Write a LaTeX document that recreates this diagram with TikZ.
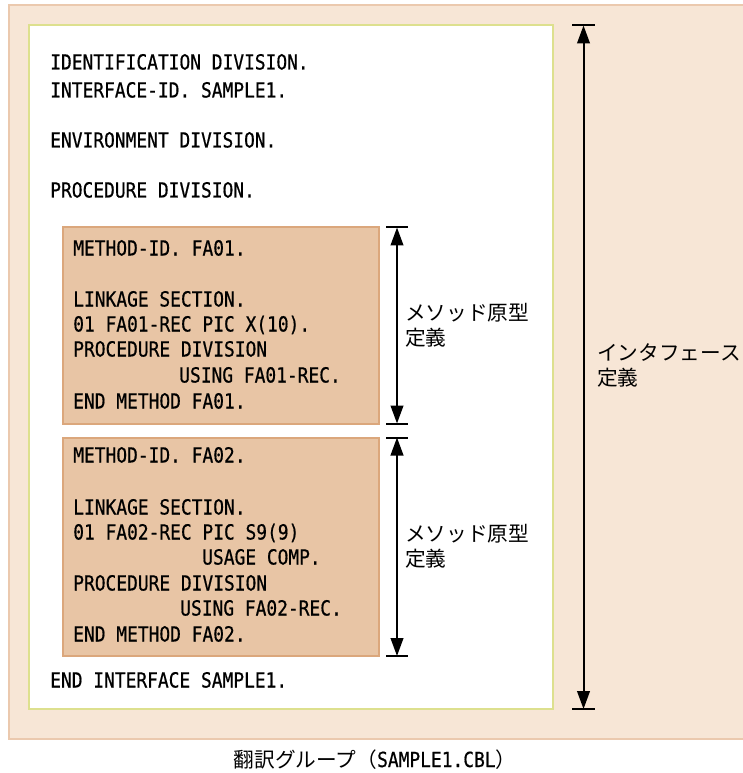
\documentclass[tikz,border=0pt]{standalone}
\usepackage{fontspec}
\usetikzlibrary{arrows.meta}
\newfontfamily\codefont[FakeStretch=0.86,FakeBold=0.6]{DejaVu Sans Mono}
\newfontfamily\jpfont{Noto Sans CJK JP}
\definecolor{outerfill}{HTML}{F7E6D6}
\definecolor{outerline}{HTML}{EBC9AE}
\definecolor{innerline}{HTML}{DDE08E}
\definecolor{methfill}{HTML}{E8C5A5}
\definecolor{methline}{HTML}{DBA77C}
\begin{document}
\begin{tikzpicture}[x=0.75pt,y=-0.75pt,
  code/.style={anchor=base west, inner sep=0pt, font=\codefont\fontsize{15.6}{18}\selectfont},
  jp/.style={anchor=base west, inner sep=0pt, font=\jpfont\fontsize{15.5}{18}\selectfont},
  dimline/.style={line width=1.5pt, {Triangle[length=13.5pt,width=9.5pt]}-{Triangle[length=13.5pt,width=9.5pt]}},
  tickbar/.style={line width=1.5pt},
  outerbox/.style={fill=outerfill, draw=outerline, line width=1.5pt},
  innerbox/.style={fill=white, draw=innerline, line width=1.5pt},
  methbox/.style={fill=methfill, draw=methline, line width=1.5pt}]
\useasboundingbox (0,0) rectangle (742,773);
% containers
\draw[outerbox] (8.5,5.5) rectangle (790,739);
\draw[innerbox] (28.5,25.5) rectangle (553,709);
\draw[methbox] (62.5,227.5) rectangle (379,423.5);
\draw[methbox] (62.5,437.5) rectangle (379,656);
% top code
\node[code] (l1) at (50,69.5) {IDENTIFICATION DIVISION.};
\node[code] (l2) at (50,97.5) {INTERFACE-ID. SAMPLE1.};
\node[code] (l3) at (50,147.5) {ENVIRONMENT DIVISION.};
\node[code] (l4) at (50,197.5) {PROCEDURE DIVISION.};
% method 1
\node[code] (a1) at (73,255.5) {METHOD-ID. FA01.};
\node[code] (a2) at (73,306.5) {LINKAGE SECTION.};
\node[code] (a3) at (73,331.5) {01 FA01-REC PIC X(10).};
\node[code] (a4) at (73,356.5) {PROCEDURE DIVISION};
\node[code] (a5) at (179,382.5) {USING FA01-REC.};
\node[code] (a6) at (73,408.5) {END METHOD FA01.};
% method 2
\node[code] (b1) at (73,462.5) {METHOD-ID. FA02.};
\node[code] (b2) at (73,514.5) {LINKAGE SECTION.};
\node[code] (b3) at (73,539.5) {01 FA02-REC PIC S9(9)};
\node[code] (b4) at (202,564.5) {USAGE COMP.};
\node[code] (b5) at (73,590.5) {PROCEDURE DIVISION};
\node[code] (b6) at (180,615.5) {USING FA02-REC.};
\node[code] (b7) at (73,641.5) {END METHOD FA02.};
\node[code] (e1) at (50,687.5) {END INTERFACE SAMPLE1.};
% dimension arrows
\coordinate (m1t) at (397,227.5);
\coordinate (m1b) at (397,423.5);
\coordinate (m2t) at (397,437.5);
\coordinate (m2b) at (397,656);
\coordinate (it) at (583.5,25.5);
\coordinate (ib) at (583.5,709);
\foreach \c in {m1t,m1b,m2t,m2b}{
  \draw[tickbar] ([xshift=-11*0.75pt]\c) -- ([xshift=11*0.75pt]\c);
}
\foreach \c in {it,ib}{
  \draw[tickbar] ([xshift=-11.5*0.75pt]\c) -- ([xshift=11.5*0.75pt]\c);
}
\draw[dimline] (m1t) -- (m1b);
\draw[dimline] (m2t) -- (m2b);
\draw[dimline] (it) -- (ib);
% labels
\node[jp] (j1) at (405,320.6) {メソッド原型};
\node[jp] (j2) at (405,345.6) {定義};
\node[jp] (k1) at (405,541.6) {メソッド原型};
\node[jp] (k2) at (405,566.6) {定義};
\node[jp] (i1) at (597,360.6) {インタフェース};
\node[jp] (i2) at (597,385.6) {定義};
\node[anchor=base, inner sep=0pt] (cap) at (375,767)
  {\jpfont\fontsize{15.5}{18}\selectfont 翻訳グループ（{\codefont\fontsize{15.6}{18}\selectfont SAMPLE1.CBL}）};
\end{tikzpicture}
\end{document}
